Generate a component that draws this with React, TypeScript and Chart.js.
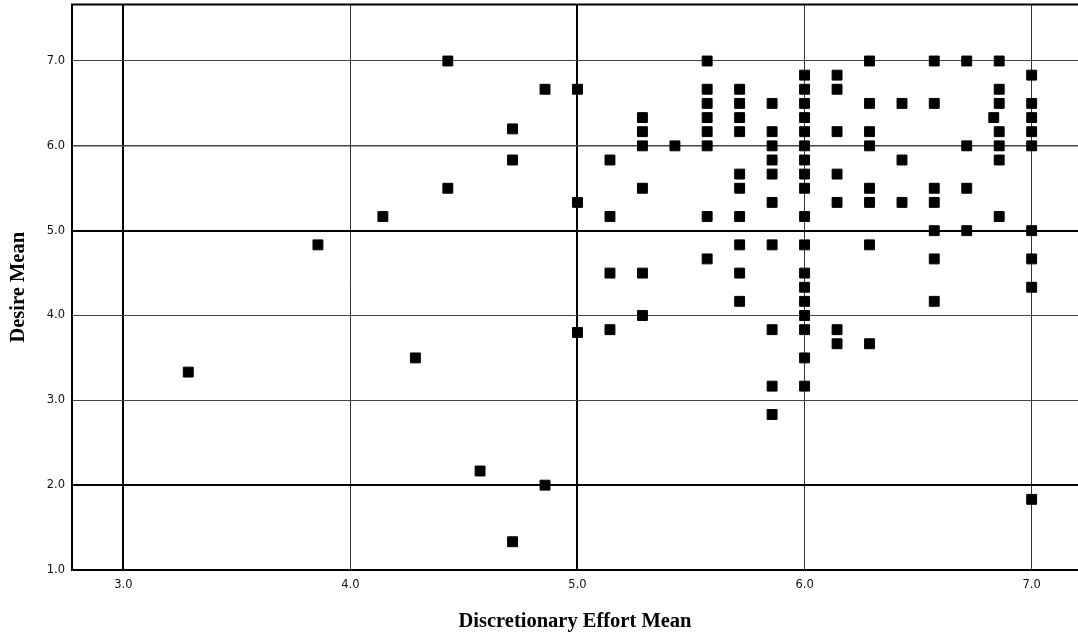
import React, { useEffect, useRef } from "react";
import { Chart, registerables } from "chart.js";
Chart.register(...registerables);

const xTitle = "Discretionary Effort Mean";
const yTitle = "Desire Mean";
const xTicks = [3, 4, 5, 6, 7];
const yTicks = [1, 2, 3, 4, 5, 6, 7];

// paired observations (x = Discretionary Effort Mean, y = Desire Mean)
const effort = [
  3.286, 3.857, 4.143, 4.286, 4.429, 4.429, 4.571, 4.714, 4.714, 4.714, 4.857, 4.857,
  5.0, 5.0, 5.0,
  5.143, 5.143, 5.143, 5.143,
  5.286, 5.286, 5.286, 5.286, 5.286, 5.286,
  5.429,
  5.571, 5.571, 5.571, 5.571, 5.571, 5.571, 5.571, 5.571,
  5.714, 5.714, 5.714, 5.714, 5.714, 5.714, 5.714, 5.714, 5.714, 5.714,
  5.857, 5.857, 5.857, 5.857, 5.857, 5.857, 5.857, 5.857, 5.857, 5.857,
  6.0, 6.0, 6.0, 6.0, 6.0, 6.0, 6.0, 6.0, 6.0, 6.0, 6.0, 6.0, 6.0, 6.0, 6.0, 6.0, 6.0, 6.0,
  6.143, 6.143, 6.143, 6.143, 6.143, 6.143, 6.143,
  6.286, 6.286, 6.286, 6.286, 6.286, 6.286, 6.286, 6.286,
  6.429, 6.429, 6.429,
  6.571, 6.571, 6.571, 6.571, 6.571, 6.571, 6.571,
  6.714, 6.714, 6.714, 6.714,
  6.833,
  6.857, 6.857, 6.857, 6.857, 6.857, 6.857, 6.857,
  7.0, 7.0, 7.0, 7.0, 7.0, 7.0, 7.0, 7.0, 7.0,
];
const desire = [
  3.333, 4.833, 5.167, 3.5, 7.0, 5.5, 2.167, 6.2, 5.833, 1.333, 6.667, 2.0,
  6.667, 5.333, 3.8,
  5.833, 5.167, 4.5, 3.833,
  6.333, 6.167, 6.0, 5.5, 4.5, 4.0,
  6.0,
  7.0, 6.667, 6.5, 6.333, 6.167, 6.0, 5.167, 4.667,
  6.667, 6.5, 6.333, 6.167, 5.667, 5.5, 5.167, 4.833, 4.5, 4.167,
  6.5, 6.167, 6.0, 5.833, 5.667, 5.333, 4.833, 3.833, 3.167, 2.833,
  6.833, 6.667, 6.5, 6.333, 6.167, 6.0, 5.833, 5.667, 5.5, 5.167, 4.833, 4.5, 4.333, 4.167, 4.0, 3.833, 3.5, 3.167,
  6.833, 6.667, 6.167, 5.667, 5.333, 3.833, 3.667,
  7.0, 6.5, 6.167, 6.0, 5.5, 5.333, 4.833, 3.667,
  6.5, 5.833, 5.333,
  7.0, 6.5, 5.5, 5.333, 5.0, 4.667, 4.167,
  7.0, 6.0, 5.5, 5.0,
  6.333,
  7.0, 6.667, 6.5, 6.167, 6.0, 5.833, 5.167,
  6.833, 6.5, 6.333, 6.167, 6.0, 5.0, 4.667, 4.333, 1.833,
];

const topBorder = {
  id: "topBorder",
  afterDatasetsDraw(chart: any) {
    const { ctx, chartArea } = chart;
    ctx.save();
    ctx.strokeStyle = "#000";
    ctx.lineWidth = 2;
    ctx.beginPath();
    ctx.moveTo(chartArea.left - 1, chartArea.top);
    ctx.lineTo(chartArea.right, chartArea.top);
    ctx.stroke();
    ctx.restore();
  },
};

const zeroPad = (s: any) => {
  s.paddingTop = 0;
  s.paddingBottom = 0;
  s.paddingLeft = 0;
  s.paddingRight = 0;
};

export default function App() {
  const ref = useRef<HTMLCanvasElement | null>(null);
  useEffect(() => {
    document.body.style.margin = "0";
    const canvas = ref.current;
    if (!canvas) return;
    const points = effort.map((x, i) => ({ x, y: desire[i] }));
    const tickFont = { family: "'DejaVu Sans', sans-serif", size: 11.5 };
    const titleFont = { family: "'Liberation Serif', 'Times New Roman', serif", size: 20.5, weight: "bold" as const };
    const chart = new Chart(canvas, {
      type: "scatter",
      data: {
        datasets: [
          {
            data: points,
            pointStyle: "rect",
            pointRadius: 7,
            pointHoverRadius: 7,
            backgroundColor: "#000",
            borderColor: "#000",
            borderWidth: 1,
          },
        ],
      },
      options: {
        animation: false,
        responsive: false,
        maintainAspectRatio: false,
        layout: { autoPadding: false, padding: { top: 4.5, right: 0, left: 0, bottom: 0 } },
        plugins: { legend: { display: false }, tooltip: { enabled: false } },
        scales: {
          x: {
            type: "linear",
            min: 2.774,
            max: 7.204,
            afterBuildTicks: (s: any) => {
              s.ticks = xTicks.map((v) => ({ value: v }));
            },
            afterFit: (s: any) => {
              s.height = 68;
              zeroPad(s);
            },
            ticks: {
              font: tickFont,
              color: "#111",
              padding: 8,
              callback: (v: any) => Number(v).toFixed(1),
            },
            grid: {
              drawTicks: false,
              color: (c: any) => (c.tick && (c.tick.value === 3 || c.tick.value === 5) ? "#000" : "#333"),
              lineWidth: (c: any) => (c.tick && (c.tick.value === 3 || c.tick.value === 5) ? 2 : 1),
            },
            border: { display: true, color: "#000", width: 2 },
            title: { display: true, text: xTitle, font: titleFont, color: "#000", padding: { top: 0, bottom: 3.5 } },
          },
          y: {
            type: "linear",
            min: 1,
            max: 7.666,
            afterBuildTicks: (s: any) => {
              s.ticks = yTicks.map((v) => ({ value: v }));
            },
            afterFit: (s: any) => {
              s.width = 72;
              zeroPad(s);
            },
            ticks: {
              font: tickFont,
              color: "#111",
              padding: 7,
              callback: (v: any) => Number(v).toFixed(1),
            },
            grid: {
              drawTicks: false,
              color: (c: any) => (c.tick && (c.tick.value === 5 || c.tick.value === 2) ? "#000" : "#444"),
              lineWidth: (c: any) =>
                c.tick && (c.tick.value === 5 || c.tick.value === 2) ? 2 : c.tick && c.tick.value === 6 ? 1.5 : 1,
            },
            border: { display: true, color: "#000", width: 2 },
            title: { display: true, text: yTitle, font: titleFont, color: "#000", padding: { top: 6.5, bottom: 0 } },
          },
        },
      },
      plugins: [topBorder],
    });
    return () => chart.destroy();
  }, []);
  return (
    <div style={{ width: 1078, height: 638, background: "#fff" }}>
      <canvas ref={ref} width={1078} height={638} style={{ display: "block" }} />
    </div>
  );
}
